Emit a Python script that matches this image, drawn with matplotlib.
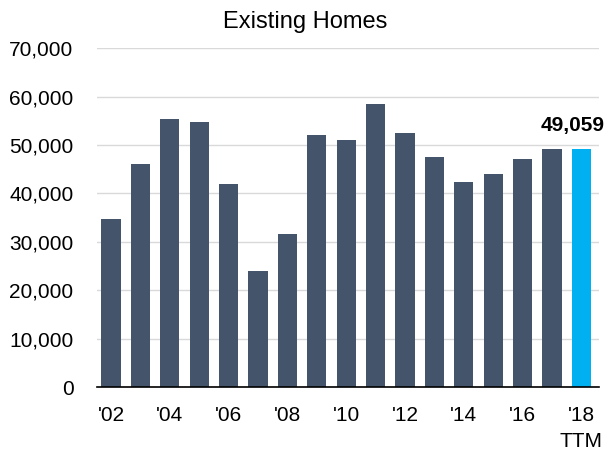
import matplotlib
matplotlib.use("Agg")
import matplotlib.pyplot as plt
import numpy as np

years = ["'02", "'03", "'04", "'05", "'06", "'07", "'08", "'09", "'10",
         "'11", "'12", "'13", "'14", "'15", "'16", "'17", "'18\nTTM"]
homes = [34800, 46100, 55400, 54700, 41900, 24000, 31600, 52100, 51100,
         58500, 52500, 47600, 42300, 44000, 47000, 49200, 49059]
title = "Existing Homes"

plt.rcParams['font.family'] = ['Liberation Sans', 'DejaVu Sans']

fig = plt.figure(figsize=(6.15, 4.58), dpi=100)
ax = fig.add_axes([0.158, 0.155, 0.816, 0.74])

x = np.arange(len(homes))
colors = ['#44546A'] * (len(homes) - 1) + ['#00B0F0']
ax.bar(x, homes, width=0.65, color=colors, zorder=3)

ax.set_ylim(0, 70000)
ax.set_xlim(-0.47, 16.6)
ax.set_yticks(np.arange(0, 70001, 10000))
ax.set_yticklabels([f"{v:,}" for v in range(0, 70001, 10000)], fontsize=15)
ax.set_xticks(x[::2])
ax.set_xticklabels([years[i] for i in x[::2]], fontsize=15, linespacing=1.45)
ax.grid(axis='y', color='#D9D9D9', linewidth=1, zorder=0)
ax.tick_params(axis='both', length=0)
ax.tick_params(axis='y', pad=17)
ax.tick_params(axis='x', pad=14)
for s in ['top', 'right', 'left']:
    ax.spines[s].set_visible(False)
ax.spines['bottom'].set_color('black')
ax.spines['bottom'].set_linewidth(1.2)
ax.spines['bottom'].set_zorder(4)

# label the latest value
ax.text(x[-1] - 0.3, homes[-1] + 3000, f"{homes[-1]:,}", ha='center', va='bottom',
        fontsize=15, fontweight='bold')

fig.text(0.497, 0.952, title, ha='center', va='center', fontsize=17)

fig.savefig("out.png", dpi=100)
